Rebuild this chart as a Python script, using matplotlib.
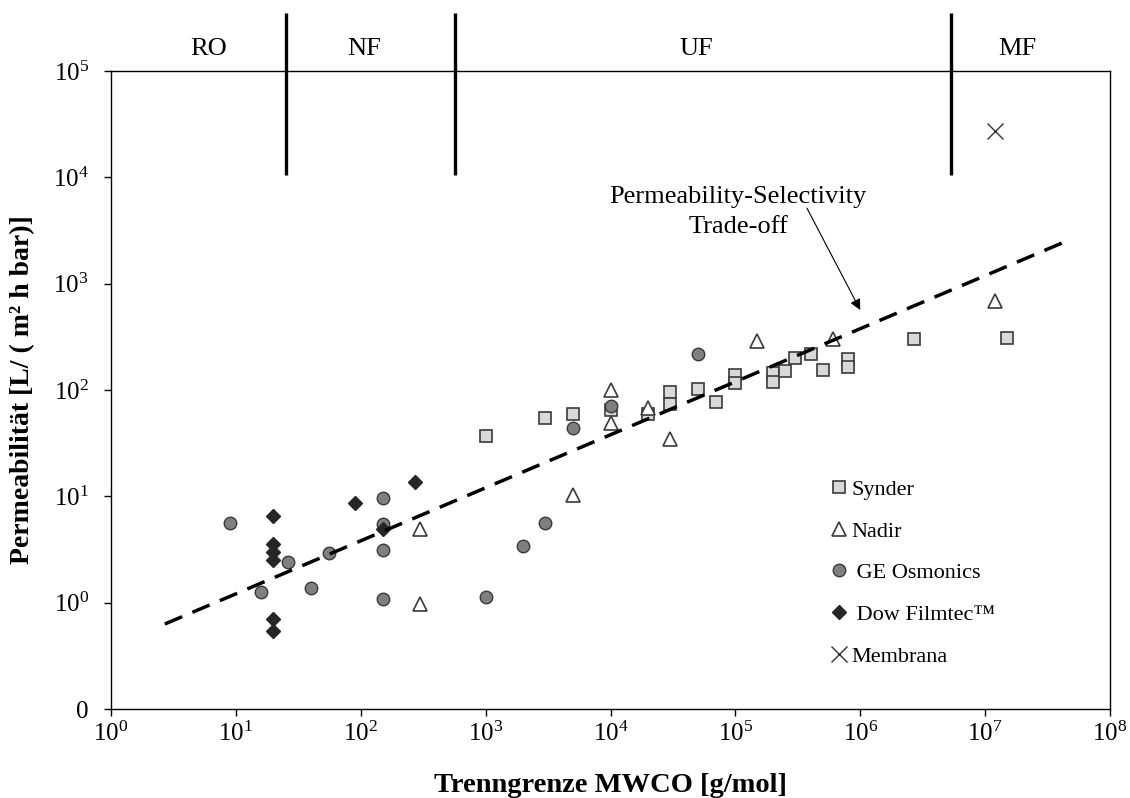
import numpy as np
import matplotlib.pyplot as plt
from matplotlib.ticker import FixedLocator, FixedFormatter, NullLocator

plt.rcParams['font.family'] = ['Liberation Serif', 'DejaVu Serif']
plt.rcParams['mathtext.fontset'] = 'custom'
plt.rcParams['mathtext.rm'] = 'Liberation Serif'
plt.rcParams['mathtext.it'] = 'Liberation Serif:italic'
plt.rcParams['mathtext.bf'] = 'Liberation Serif:bold'

# MWCO [g/mol] vs. permeability [L/(m2 h bar)] per manufacturer
synder_mwco = [1000, 3000, 5000, 10000, 20000, 30000, 30000, 50000, 70000,
               100000, 100000, 200000, 200000, 250000, 300000, 400000,
               500000, 800000, 800000, 2.7e6, 1.5e7]
synder_perm = [37, 54.5, 60, 65, 60, 96, 74, 102, 77,
               137, 117, 143, 119, 152, 198, 218,
               154, 194, 163, 301, 308]

nadir_mwco = [300, 300, 5000, 10000, 10000, 20000, 30000, 150000, 600000, 1.2e7]
nadir_perm = [4.9, 0.97, 10.3, 100, 48.5, 68, 34.3, 289, 299, 686]

ge_mwco = [9, 16, 26, 40, 56, 150, 150, 150, 150, 1000, 2000, 3000, 5000, 10000, 50000]
ge_perm = [5.6, 1.26, 2.4, 1.37, 2.9, 9.7, 5.5, 3.1, 1.08, 1.12, 3.4, 5.6, 44, 71, 218]

dow_mwco = [20, 20, 20, 20, 20, 20, 90, 150, 270]
dow_perm = [6.5, 3.6, 3.0, 2.5, 0.70, 0.54, 8.6, 4.9, 13.6]

membrana_mwco = [1.2e7]
membrana_perm = [2.7e4]

# trade-off line end points
trend_mwco = [2.7, 4.8e7]
trend_perm = [0.63, 2600]

# process boundaries RO | NF | UF | MF
region_names = ['RO', 'NF', 'UF', 'MF']
region_centers = [6, 106, 4.9e4, 1.8e7]
region_bounds = [25, 570, 5.3e6]

xtick_vals = [10.0**k for k in range(0, 9)]
xtick_labels = ['$10^{%d}$' % k for k in range(0, 9)]
ytick_vals = [10.0**k for k in range(-1, 6)]
ytick_labels = ['0'] + ['$10^{%d}$' % k for k in range(0, 6)]

fig = plt.figure(figsize=(11.3, 7.98), dpi=100)
ax = fig.add_axes([111 / 1130, 89 / 798, 999 / 1130, 638 / 798])
ax.set_xscale('log')
ax.set_yscale('log')
ax.set_xlim(1, 1e8)
ax.set_ylim(0.1, 1e5)

edge = '#3a3a3a'
ax.plot(synder_mwco, synder_perm, 's', ms=9, mfc='#d9d9d9', mec=edge, mew=1.2,
        label='Synder')
ax.plot(nadir_mwco, nadir_perm, '^', ms=9.5, mfc='white', mec=edge, mew=1.2,
        label='Nadir')
ax.plot(ge_mwco, ge_perm, 'o', ms=9, mfc='#7f7f7f', mec=edge, mew=1.0,
        label=' GE Osmonics')
ax.plot(dow_mwco, dow_perm, 'D', ms=7.5, mfc='#262626', mec='#262626', mew=1.0,
        label=' Dow Filmtec™')
ax.plot(membrana_mwco, membrana_perm, 'x', ms=11, mec='#333333', mew=1.0,
        label='Membrana')

ax.plot(trend_mwco, trend_perm, color='black', lw=2.5, dashes=(5.4, 3.2))

ax.vlines(region_bounds, 1.05e4, 3.5e5, colors='black', lw=2.4, clip_on=False)
for name, xc in zip(region_names, region_centers):
    ax.text(xc, 1.6e5, name, ha='center', va='center', fontsize=19)

ax.text(1.05e5, 4700, 'Permeability-Selectivity\nTrade-off', ha='center',
        va='center', fontsize=19, linespacing=1.45)
ax.annotate('', xy=(1e6, 565), xytext=(3.74e5, 5140),
            arrowprops=dict(arrowstyle='-|>', color='black', lw=0.8,
                            mutation_scale=16, shrinkA=0, shrinkB=0))

ax.xaxis.set_major_locator(FixedLocator(xtick_vals))
ax.xaxis.set_major_formatter(FixedFormatter(xtick_labels))
ax.yaxis.set_major_locator(FixedLocator(ytick_vals))
ax.yaxis.set_major_formatter(FixedFormatter(ytick_labels))
ax.xaxis.set_minor_locator(NullLocator())
ax.yaxis.set_minor_locator(NullLocator())
ax.tick_params(axis='both', direction='out', length=5, width=1.0, labelsize=18)
ax.tick_params(axis='x', pad=4)
ax.tick_params(axis='y', pad=11)
for sp in ax.spines.values():
    sp.set_linewidth(1.0)

ax.set_xlabel('Trenngrenze MWCO [g/mol]', fontsize=20.5, fontweight='bold')
ax.xaxis.set_label_coords(0.5, -0.1)
ax.set_ylabel('Permeabilität [L/ ( m² h bar)]', fontsize=20, fontweight='bold')
ax.yaxis.set_label_coords(-0.076, 0.5)

ax.legend(loc='upper left', bbox_to_anchor=(0.72, 0.36), frameon=False,
          fontsize=16, handlelength=0.8, handletextpad=0.15, labelspacing=0.95,
          borderpad=0, borderaxespad=0)

fig.savefig('out.png', dpi=100)
